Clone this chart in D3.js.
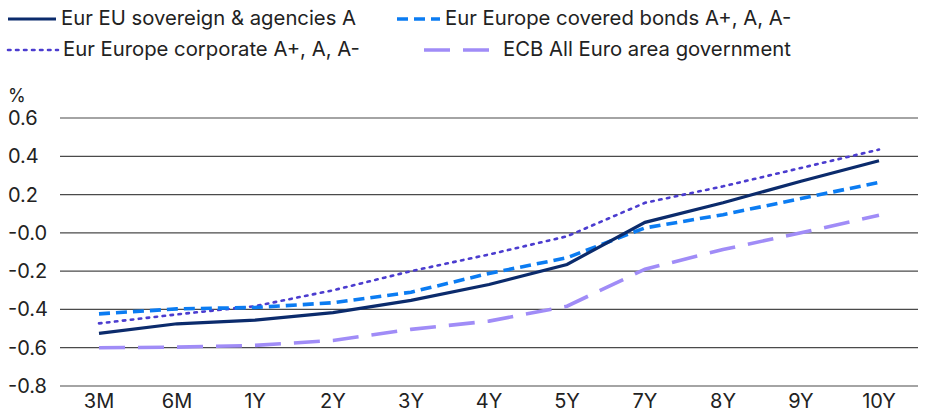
<html>
<head>
<script src="https://cdn.jsdelivr.net/npm/d3@7"></script>
<style>
  body { margin: 0; background: #fff; font-family: Inter, "Open Sans", sans-serif; }
  text { fill: #222; }
</style>
</head>
<body>
<script>
var tenors = ["3M", "6M", "1Y", "2Y", "3Y", "4Y", "5Y", "7Y", "8Y", "9Y", "10Y"];
var sovereign = [-0.525, -0.475, -0.456, -0.417, -0.353, -0.27, -0.165, 0.055, 0.157, 0.27, 0.377];
var covered = [-0.423, -0.397, -0.39, -0.365, -0.31, -0.212, -0.13, 0.026, 0.095, 0.179, 0.264];
var corporate = [-0.473, -0.426, -0.383, -0.30, -0.20, -0.113, -0.018, 0.157, 0.243, 0.339, 0.435];
var ecb = [-0.60, -0.597, -0.588, -0.562, -0.504, -0.461, -0.383, -0.19, -0.087, 0.0, 0.092];
var yTicks = [0.6, 0.4, 0.2, 0.0, -0.2, -0.4, -0.6, -0.8];
var yTickLabels = ["0.6", "0.4", "0.2", "-0.0", "-0.2", "-0.4", "-0.6", "-0.8"];

var series = [
  { name: "Eur EU sovereign & agencies A", values: sovereign, color: "#0b2b6c", width: 3.2, dash: null },
  { name: "Eur Europe covered bonds A+, A, A-", values: covered, color: "#0b7cf2", width: 3.6, dash: "11,6" },
  { name: "Eur Europe corporate A+, A, A-", values: corporate, color: "#4b3ccf", width: 2.6, dash: "2.5,5.5" },
  { name: "ECB All Euro area government", values: ecb, color: "#a08cf7", width: 3.6, dash: "26,13" }
];

var width = 927, height = 412;
var svg = d3.select("body").append("svg")
  .attr("width", width)
  .attr("height", height);

var x = d3.scaleBand().domain(tenors).range([60, 918]);
var y = d3.scaleLinear().domain([-0.8, 0.6]).range([386, 118]);

// gridlines
svg.append("g").selectAll("line")
  .data(yTicks)
  .enter().append("line")
  .attr("x1", 60).attr("x2", 918)
  .attr("y1", function(d) { return y(d); })
  .attr("y2", function(d) { return y(d); })
  .attr("stroke", "#4a4a4a")
  .attr("stroke-width", 1.2);

// y labels
svg.append("g").selectAll("text")
  .data(yTicks)
  .enter().append("text")
  .attr("x", 8)
  .attr("y", function(d) { return y(d); })
  .attr("dy", "0.35em")
  .attr("font-size", 20)
  .text(function(d, i) { return yTickLabels[i]; });

svg.append("text")
  .attr("x", 8).attr("y", 96)
  .attr("dy", "0.35em")
  .attr("font-size", 18)
  .text("%");

// x labels
svg.append("g").selectAll("text")
  .data(tenors)
  .enter().append("text")
  .attr("x", function(d) { return x(d) + x.bandwidth() / 2; })
  .attr("y", 401)
  .attr("dy", "0.35em")
  .attr("text-anchor", "middle")
  .attr("font-size", 20)
  .text(function(d) { return d; });

var line = d3.line()
  .x(function(d, i) { return x(tenors[i]) + x.bandwidth() / 2; })
  .y(function(d) { return y(d); });

svg.append("g").selectAll("path")
  .data(series.slice().reverse())
  .enter().append("path")
  .attr("d", function(s) { return line(s.values); })
  .attr("fill", "none")
  .attr("stroke", function(s) { return s.color; })
  .attr("stroke-width", function(s) { return s.width; })
  .attr("stroke-dasharray", function(s) { return s.dash; })
  .attr("stroke-linecap", function(s) { return s.dash === "2.5,5.5" ? "round" : "butt"; });

// legend
var legendPos = [
  { x: 8, y: 18, len: 48 },
  { x: 397, y: 18, len: 43 },
  { x: 8, y: 49, len: 50 },
  { x: 424, y: 49, len: 74 }
];
var leg = svg.append("g").selectAll("g")
  .data(series)
  .enter().append("g")
  .attr("transform", function(d, i) { return "translate(" + legendPos[i].x + "," + legendPos[i].y + ")"; });

leg.append("line")
  .attr("x1", 0)
  .attr("x2", function(d, i) { return legendPos[i].len; })
  .attr("y1", 1).attr("y2", 1)
  .attr("stroke", function(d) { return d.color; })
  .attr("stroke-width", function(d) { return d.width; })
  .attr("stroke-dasharray", function(d) { return d.dash; })
  .attr("stroke-linecap", function(d) { return d.dash === "2.5,5.5" ? "round" : "butt"; });

leg.append("text")
  .attr("x", function(d, i) { return legendPos[i].len + 5; })
  .attr("y", 0)
  .attr("dy", "0.35em")
  .attr("font-size", 20.3)
  .text(function(d) { return d.name; });
</script>
</body>
</html>
